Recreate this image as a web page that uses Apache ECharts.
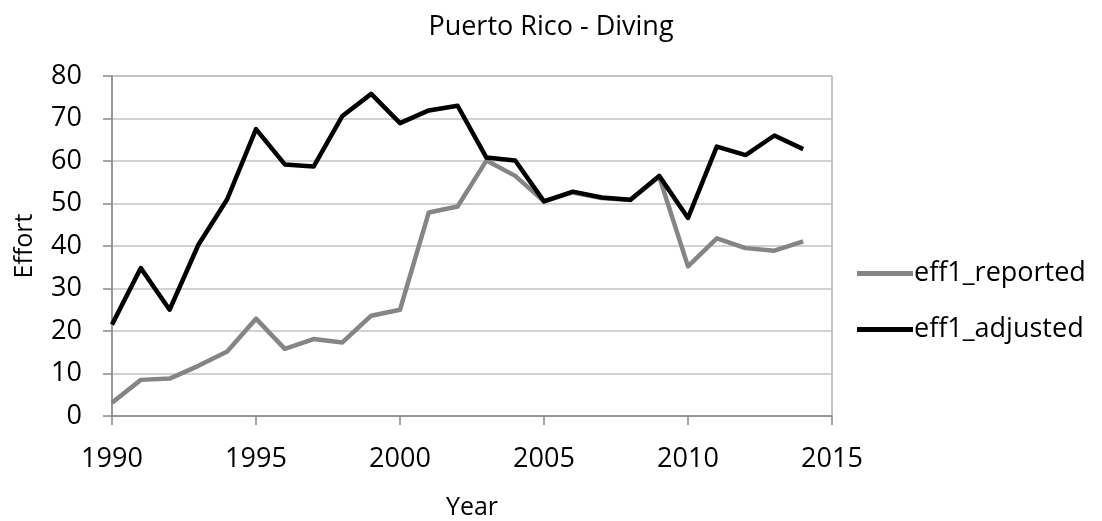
<!DOCTYPE html>
<html>
<head>
<meta charset="utf-8">
<script src="https://cdn.jsdelivr.net/npm/echarts@6/dist/echarts.min.js"></script>
<style>
  html, body { margin: 0; padding: 0; background: #fff; }
  #chart { width: 1102px; height: 521px; }
</style>
</head>
<body>
<div id="chart"></div>
<script>
// Fishing effort by year, Puerto Rico diving fishery
const years = [1990, 1991, 1992, 1993, 1994, 1995, 1996, 1997, 1998, 1999,
               2000, 2001, 2002, 2003, 2004, 2005, 2006, 2007, 2008, 2009,
               2010, 2011, 2012, 2013, 2014];
const eff1Reported = [3.1, 8.5, 8.8, 11.8, 15.2, 22.9, 15.8, 18.1, 17.3, 23.6,
                      25.0, 47.9, 49.3, 60.1, 56.5, 50.5, 52.6, 51.3, 50.8, 56.3,
                      35.2, 41.8, 39.5, 38.9, 41.1];
const eff1Adjusted = [21.5, 34.8, 25.0, 40.3, 51.0, 67.5, 59.2, 58.7, 70.6, 75.8,
                      68.9, 71.9, 73.0, 60.8, 60.1, 50.5, 52.8, 51.4, 50.9, 56.5,
                      46.6, 63.4, 61.4, 66.0, 62.8];
const seriesNames = ['eff1_reported', 'eff1_adjusted'];

const FONT = '"Open Sans", sans-serif';
const axisGray = '#898989';

const pairs = vals => years.map((y, i) => [y, vals[i]]);

const chart = echarts.init(document.getElementById('chart'), null, { renderer: 'canvas' });
chart.setOption({
  animation: false,
  backgroundColor: '#ffffff',
  textStyle: { fontFamily: FONT, color: '#000' },
  title: {
    text: 'Puerto Rico - Diving',
    left: 'center',
    top: 9,
    textStyle: { fontFamily: FONT, fontSize: 27, fontWeight: 'normal', color: '#000' }
  },
  grid: {
    left: 112, right: 270, top: 76, bottom: 105,
    containLabel: false,
    outerBoundsMode: 'none',
    show: true, borderColor: axisGray, borderWidth: 1, backgroundColor: 'transparent'
  },
  legend: {
    orient: 'vertical',
    left: 852,
    top: 255,
    icon: 'rect',
    itemWidth: 56,
    itemHeight: 5,
    itemGap: 29,
    textStyle: { fontFamily: FONT, fontSize: 27, color: '#000', padding: [0, 0, 0, -4] },
    data: seriesNames
  },
  xAxis: {
    type: 'value',
    min: 1990, max: 2015, interval: 5,
    name: 'Year',
    nameLocation: 'middle',
    nameGap: 79,
    nameTextStyle: { fontFamily: FONT, fontSize: 25, color: '#000' },
    axisLine: { show: true, onZero: false, lineStyle: { color: axisGray, width: 1.5 } },
    axisTick: { show: true, inside: false, length: 9, lineStyle: { color: axisGray, width: 1.5 } },
    axisLabel: { fontFamily: FONT, fontSize: 27, color: '#000', margin: 30, formatter: v => String(v) },
    splitLine: { show: false }
  },
  yAxis: {
    type: 'value',
    min: 0, max: 80, interval: 10,
    name: 'Effort',
    nameLocation: 'middle',
    nameRotate: 90,
    nameGap: 75,
    nameTextStyle: { fontFamily: FONT, fontSize: 25, color: '#000' },
    axisLine: { show: true, lineStyle: { color: axisGray, width: 1.5 } },
    axisTick: { show: true, inside: false, length: 9, lineStyle: { color: axisGray, width: 1.5 } },
    axisLabel: { fontFamily: FONT, fontSize: 27, color: '#000', margin: 30 },
    splitLine: { show: true, lineStyle: { color: '#c3c3c3', width: 1.5 } }
  },
  series: [
    {
      name: seriesNames[0],
      type: 'line',
      data: pairs(eff1Reported),
      symbol: 'none',
      itemStyle: { color: '#858585' },
      lineStyle: { color: '#858585', width: 4.5, join: 'round' },
      z: 2
    },
    {
      name: seriesNames[1],
      type: 'line',
      data: pairs(eff1Adjusted),
      symbol: 'none',
      itemStyle: { color: '#000000' },
      lineStyle: { color: '#000000', width: 4.5, join: 'round' },
      z: 3
    }
  ]
});
</script>
</body>
</html>
